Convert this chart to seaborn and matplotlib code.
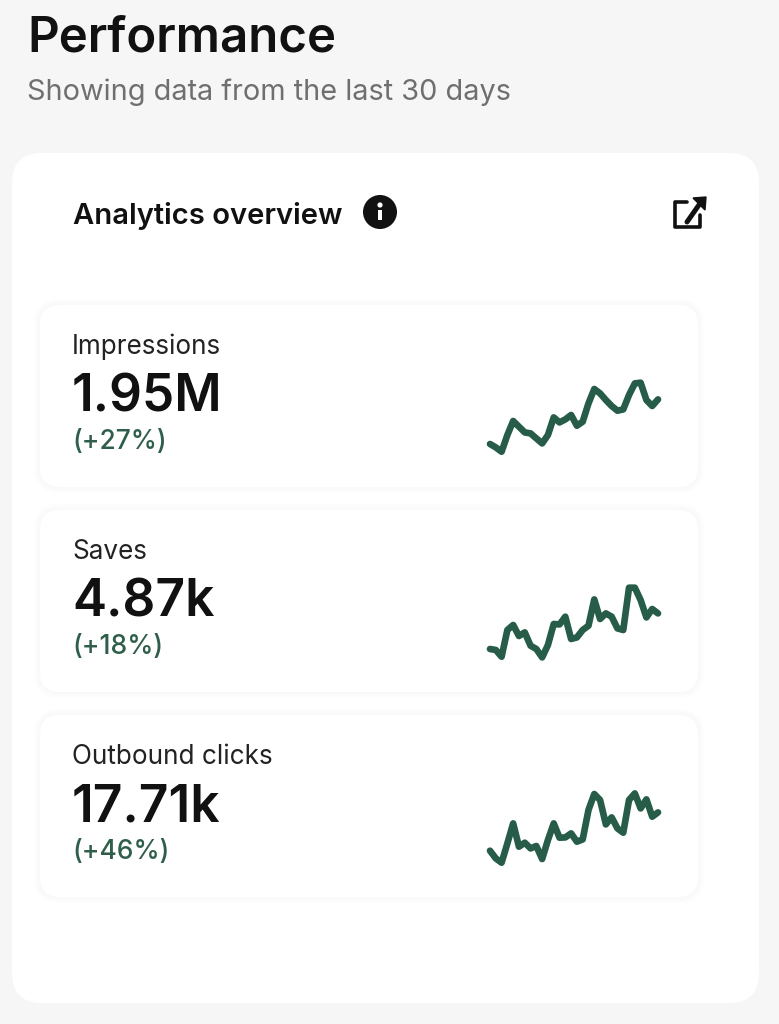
import numpy as np
import pandas as pd
import seaborn as sns
import matplotlib.pyplot as plt
from matplotlib.patches import FancyBboxPatch, Circle, Rectangle, Polygon

W, H = 779, 1024

labels = ["Impressions", "Saves", "Outbound clicks"]
totals = ["1.95M", "4.87k", "17.71k"]
changes = ["(+27%)", "(+18%)", "(+46%)"]

# sparkline heights, 30 days
impressions = [12.7, 9.3, 5, 21.7, 35.7, 30, 24.3, 23.3, 18.3, 13.3,
               21.7, 39.3, 34.3, 37.3, 41.7, 31, 35, 53.3, 67.7, 63.3,
               56.7, 50.7, 46, 47.3, 61.7, 73.3, 74, 56.7, 50.7, 57.3]
saves = [12.7, 11.7, 5, 31.7, 36.7, 25.7, 29.3, 16, 12.7, 4.3,
         16.7, 37.7, 37.3, 45, 22.7, 24.3, 31.7, 36, 62.3, 42.7,
         48.3, 45, 33.3, 31.7, 74, 74, 61.7, 44.3, 52.7, 48.3]
clicks = [16, 8.3, 4, 23.3, 43.3, 20, 24, 18.3, 20.7, 7.7,
          26.7, 43.3, 29, 29.3, 33.3, 25, 27.3, 56.7, 72.7, 66.7,
          42.3, 49.3, 38.3, 34, 66.7, 73.3, 58.3, 67.3, 50, 54.3]
series = [impressions, saves, clicks]

BG = "#f6f6f6"
DARK = "#111111"
GREY = "#6f6f6f"
GREEN = "#2f5f4b"
LINE = "#265c48"

sns.set_theme(style="white")
plt.rcParams["font.family"] = ["Inter", "Liberation Sans", "DejaVu Sans"]

fig = plt.figure(figsize=(W / 100, H / 100), dpi=100, facecolor=BG)
bg = fig.add_axes([0, 0, 1, 1])
bg.set_xlim(0, W)
bg.set_ylim(H, 0)
bg.axis("off")


def card(x0, y0, x1, y1, r, **kw):
    bg.add_patch(FancyBboxPatch((x0 + r, y0 + r), x1 - x0 - 2 * r, y1 - y0 - 2 * r,
                                boxstyle="round,pad={0},rounding_size={0}".format(r), **kw))


card(12, 153, 759, 1003, 30, fc="white", ec="none")

bg.text(27, 39, "Performance", fontsize=35.4, fontweight="semibold", color=DARK, va="center")
bg.text(27, 92, "Showing data from the last 30 days", fontsize=20.8, color=GREY, va="center")
bg.text(73, 216, "Analytics overview", fontsize=21, fontweight="semibold", color=DARK, va="center")

# info icon
bg.add_patch(Circle((380, 212), 17, fc=DARK, ec="none"))
bg.add_patch(Circle((380, 205), 2.6, fc="white", ec="none"))
bg.add_patch(Rectangle((378, 209.5), 4, 10, fc="white", ec="none"))

# open-in-new icon
bg.plot([687, 675.5, 675.5, 700, 700], [202, 202, 227, 227, 215], color=DARK, lw=2.6,
        solid_joinstyle="round", solid_capstyle="round")
bg.plot([687, 701], [222, 202], color=DARK, lw=3.6, solid_capstyle="round")
bg.add_patch(Polygon([[693, 198], [706, 197], [705, 210]], fc=DARK, ec=DARK, lw=1))

tops = [305, 510, 715]
for i, top in enumerate(tops):
    # soft shadow, then the card
    for grow, col in [(6, "#fdfdfd"), (4, "#fbfbfb"), (2, "#f9f9f9")]:
        card(40 - grow, top - grow, 698 + grow, top + 182 + grow, 20 + grow, fc=col, ec="none")
    card(40, top, 698, top + 182, 20, fc="white", ec="none")

    bg.text(72, top + 42, labels[i], fontsize=18.8, color="#222222", va="center")
    bg.text(72, top + 93, totals[i], fontsize=37, fontweight="semibold", color=DARK, va="center")
    bg.text(72, top + 137, changes[i], fontsize=19, fontweight="medium", color=GREEN, va="center")

    bottom = top + 151.7
    ax = fig.add_axes([490 / W, 1 - bottom / H, 168 / W, 90 / H])
    ax.patch.set_alpha(0)
    df = pd.DataFrame({"day": np.arange(len(series[i])), "value": series[i]})
    sns.lineplot(data=df, x="day", y="value", color=LINE, linewidth=4.8, ax=ax,
                 solid_joinstyle="round", solid_capstyle="round", clip_on=False)
    ax.set_xlim(0, 29)
    ax.set_ylim(0, 90)
    ax.axis("off")

fig.savefig("out.png", dpi=100, facecolor=BG)
